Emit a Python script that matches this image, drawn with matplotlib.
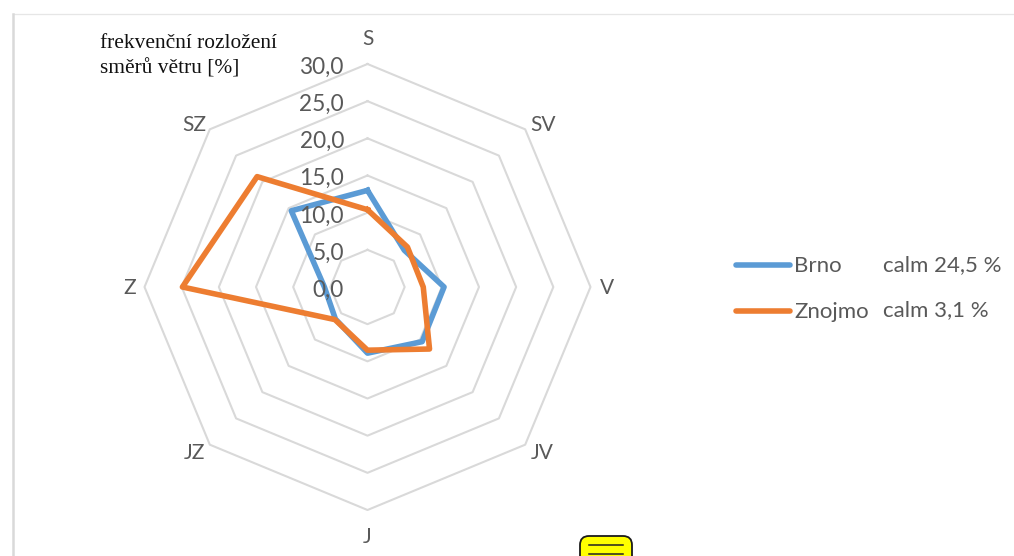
import numpy as np
import matplotlib
matplotlib.use("Agg")
import matplotlib.pyplot as plt
from matplotlib.patches import FancyBboxPatch
from matplotlib.lines import Line2D

directions = ["S", "SV", "V", "JV", "J", "JZ", "Z", "SZ"]
brno = [13.0, 7.0, 10.3, 10.4, 8.9, 6.1, 5.8, 14.5]
znojmo = [10.4, 7.6, 7.5, 11.8, 8.5, 6.2, 24.9, 21.0]
ring_values = [5, 10, 15, 20, 25, 30]
tick_values = [0, 5, 10, 15, 20, 25, 30]
tick_labels = ["0,0", "5,0", "10,0", "15,0", "20,0", "25,0", "30,0"]
series_names = ["Brno", "Znojmo"]
calm_labels = ["calm 24,5 %", "calm 3,1 %"]

W, H = 1014, 556
SANS = ["Lato", "Open Sans", "DejaVu Sans"]
TXT = "#595959"
fig = plt.figure(figsize=(W / 100, H / 100), dpi=100, facecolor="white")

# pixel-space overlay for the frame and the clipped yellow note
bg = fig.add_axes([0, 0, 1, 1])
bg.set_xlim(0, W)
bg.set_ylim(H, 0)
bg.axis("off")
bg.plot([12.5, W], [13.5, 13.5], color="#E6E6E6", lw=0.9)
bg.plot([12.5, 12.5], [13.5, H], color="#D9D9D9", lw=1.8)
bg.add_patch(FancyBboxPatch((587, 543), 38, 30, boxstyle="round,pad=7,rounding_size=9",
                            fc="#FFFF00", ec="#1A1A1A", lw=1.3))
for yy in (544.5, 553.5):
    bg.plot([589, 623], [yy, yy], color="#222222", lw=1.1)

cx, cy, R = 367.5, 287, 223
ax = fig.add_axes([(cx - R) / W, 1 - (cy + R) / H, 2 * R / W, 2 * R / H], projection="polar")
ax.patch.set_alpha(0)
ax.set_theta_zero_location("N")
ax.set_theta_direction(-1)
ax.set_ylim(0, 30)
ax.grid(False)
ax.spines["polar"].set_visible(False)
ax.set_xticks([])
ax.set_yticks([])

theta = np.arange(len(directions)) * 2 * np.pi / len(directions)
closed = np.append(theta, theta[0])
for r in ring_values:
    ax.plot(closed, [r] * len(closed), color="#D9D9D9", lw=1.5, zorder=1, clip_on=False)

line_b, = ax.plot(closed, brno + brno[:1], color="#5B9BD5", lw=4.0, zorder=3,
                  solid_joinstyle="round", label=series_names[0])
line_z, = ax.plot(closed, znojmo + znojmo[:1], color="#ED7D31", lw=4.0, zorder=4,
                  solid_joinstyle="round", label=series_names[1])

# direction labels sit on the ring's spokes, nudged off the outer ring (offsets in points)
label_offsets = [(0, 18), (13, 3), (12, -0.7), (12, -6), (0, -19.5), (-11, -6), (-11, -0.7), (-11, 3)]
for t, name, off in zip(theta, directions, label_offsets):
    ax.annotate(name, xy=(t, 30), xytext=off, textcoords="offset points", ha="center", va="center",
                fontsize=15, color=TXT, family=SANS, annotation_clip=False)
for v, lab in zip(tick_values, tick_labels):
    ax.annotate(lab, xy=(0, v), xytext=(-17, -2.3), textcoords="offset points",
                ha="right", va="center", fontsize=16.3, color=TXT, family=SANS, zorder=5)

handles = [Line2D([], [], color=l.get_color(), lw=4.0, solid_capstyle="round") for l in (line_b, line_z)]
fig.legend(handles, series_names, loc="center left",
           bbox_to_anchor=(716 / W, 1 - 289.5 / H), frameon=False, handlelength=2.43,
           handletextpad=0.2, labelspacing=1.17,
           prop={"family": SANS, "size": 16}, labelcolor=TXT)
for lab, py in zip(calm_labels, (265, 310)):
    fig.text(883 / W, 1 - py / H, lab, ha="left", va="center", fontsize=16, color=TXT, family=SANS)

fig.text(100 / W, 1 - 43 / H, "frekvenční rozložení", ha="left", va="center",
         fontsize=15.4, color="#111111", family="Liberation Serif")
fig.text(100 / W, 1 - 69 / H, "směrů větru [%]", ha="left", va="center",
         fontsize=15.4, color="#111111", family="Liberation Serif")

fig.savefig("out.png", dpi=100, facecolor="white")
